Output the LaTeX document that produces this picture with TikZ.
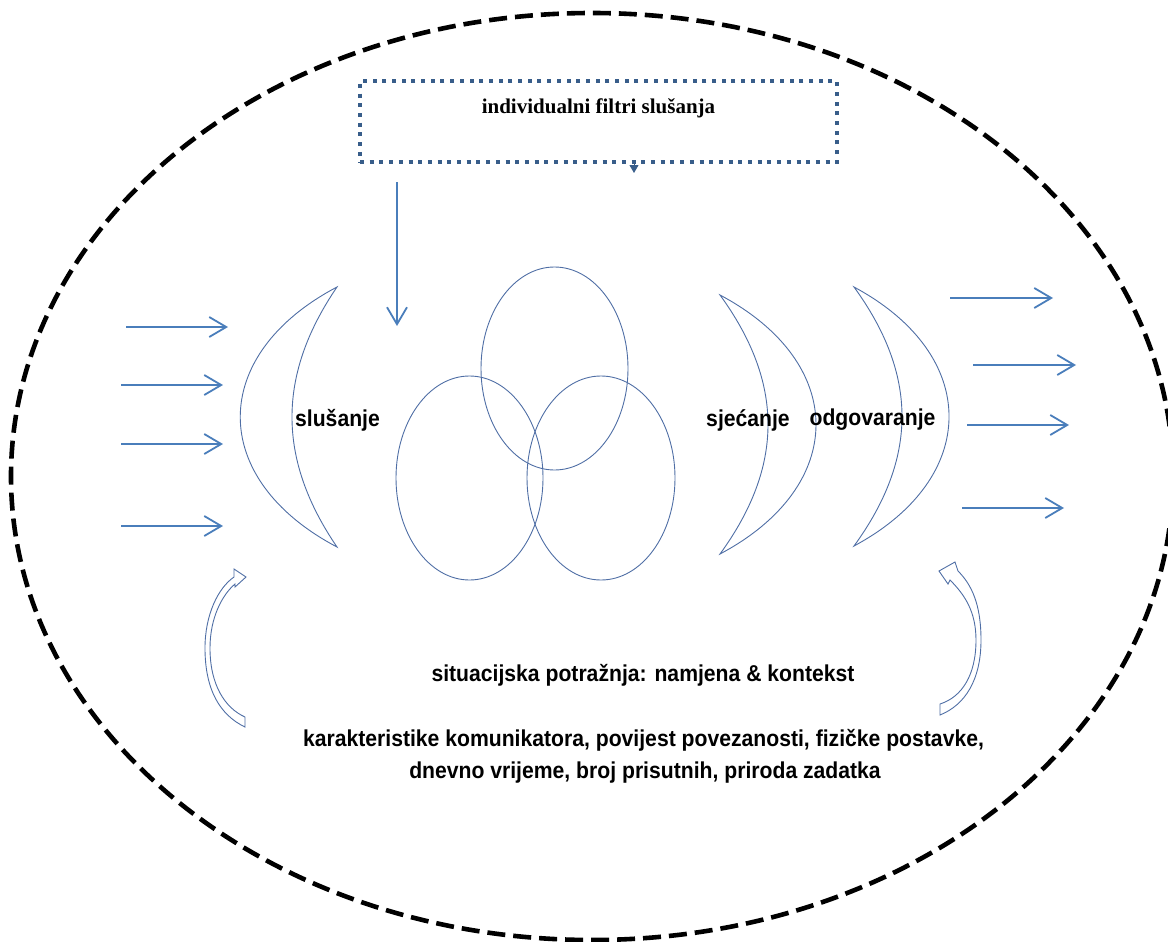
\documentclass[tikz,border=0pt]{standalone}
\usepackage{fontspec}
\setmainfont{Liberation Sans}
\newfontfamily\stagefont[FakeStretch=0.92]{Liberation Sans}
\newfontfamily\filterfont{Liberation Serif}
\usetikzlibrary{arrows.meta}
\definecolor{flowblue}{RGB}{74,126,187}
\definecolor{boxblue}{RGB}{56,93,138}
\definecolor{lensblue}{RGB}{79,110,165}

\begin{document}
\begin{tikzpicture}[
  x=0.5pt, y=-0.5pt,
  flow/.style={draw=flowblue, line width=0.9pt, -{Straight Barb[length=8.5pt,width=10pt]}},
  lens/.style={draw=lensblue, line width=0.45pt},
  boundary/.style={draw=black, line width=2.3pt, dash pattern=on 9pt off 4pt},
  filterbox/.style={draw=boxblue, line width=2pt, dash pattern=on 2pt off 2.85pt,
    minimum width=238.5pt, minimum height=40.5pt, inner sep=0pt},
  filtertext/.style={font=\filterfont\bfseries\fontsize{10.5}{12}\selectfont},
  stagetext/.style={font=\stagefont\bfseries\fontsize{11.5}{13}\selectfont, inner sep=1pt}
]
\useasboundingbox (0,0) rectangle (1168,942);

% outer context
\draw[boundary] (592,476.5) ellipse [x radius=581, y radius=463.5];

% filter box
\node[filterbox] (filter) at (598.5,121.5) {};
\node[filtertext] (filterlabel) at (598.5,108) {individualni filtri slušanja};
\coordinate (filterhint) at (634,173);
\draw[boxblue, line width=0.5pt, -{Triangle[length=4pt,width=4.5pt]}]
  (filter.south -| filterhint) -- (filterhint);
\coordinate (filterin) at (397,182);
\coordinate (filterout) at (397,326);
\draw[flow] (filterin) -- (filterout);

% lenses
\draw[lens] (337,287) .. controls (208,355) and (208,479) .. (337,547)
  .. controls (277,459) and (277,375) .. (337,287) -- cycle;
\draw[lens] (720,295) .. controls (848,363) and (848,486) .. (720,554)
  .. controls (784,466) and (784,383) .. (720,295) -- cycle;
\draw[lens] (854,287) .. controls (980.7,355) and (980.7,478) .. (854,546)
  .. controls (918,458) and (918,375) .. (854,287) -- cycle;

% three circles
\draw[lens] (554.5,368.5) ellipse [x radius=73.5, y radius=101.5];
\draw[lens] (469.5,478) ellipse [x radius=73.5, y radius=102];
\draw[lens] (601,478) ellipse [x radius=74, y radius=102];

% stage labels
\node[stagetext] (listen) at (337.5,420) {slušanje};
\node[stagetext] (recall) at (748,420) {sjećanje};
\node[stagetext] (respond) at (872.5,420) {odgovaranje};

% incoming and outgoing arrows
\foreach \ya/\xa/\xb [count=\i] in {327/126/228, 385/121/223, 444/121/223, 526/121/223} {
  \coordinate (in\i a) at (\xa,\ya);
  \coordinate (in\i b) at (\xb,\ya);
  \draw[flow] (in\i a) -- (in\i b);
}
\foreach \ya/\xa/\xb [count=\i] in {298/950/1053, 365/973/1076, 425/967/1069, 508/962/1064} {
  \coordinate (out\i a) at (\xa,\ya);
  \coordinate (out\i b) at (\xb,\ya);
  \draw[flow] (out\i a) -- (out\i b);
}

% curved feedback arrows
\draw[lens] (245,727) .. controls (220,715) and (205,690) .. (205,648)
  .. controls (205,615) and (218,588) .. (234,577) -- (234,569) -- (246,577)
  -- (235,587) -- (235,584) .. controls (222,595) and (210,618) .. (210,648)
  .. controls (210,685) and (225,708) .. (245,717) -- cycle;
\draw[lens] (940,715) .. controls (965,705) and (981,680) .. (981,640)
  .. controls (981,605) and (972,585) .. (958,571) -- (955,562) -- (939,571)
  -- (948,584) -- (950,580) .. controls (965,595) and (976,612) .. (976,640)
  .. controls (976,675) and (962,697) .. (940,704) -- cycle;

% situation
\node[stagetext] (demand) at (643,675) {situacijska potražnja: namjena \& kontekst};
\node[stagetext] (factorsa) at (643.5,740) {karakteristike komunikatora, povijest povezanosti, fizičke postavke,};
\node[stagetext] (factorsb) at (645,773) {dnevno vrijeme, broj prisutnih, priroda zadatka};
\end{tikzpicture}
\end{document}
